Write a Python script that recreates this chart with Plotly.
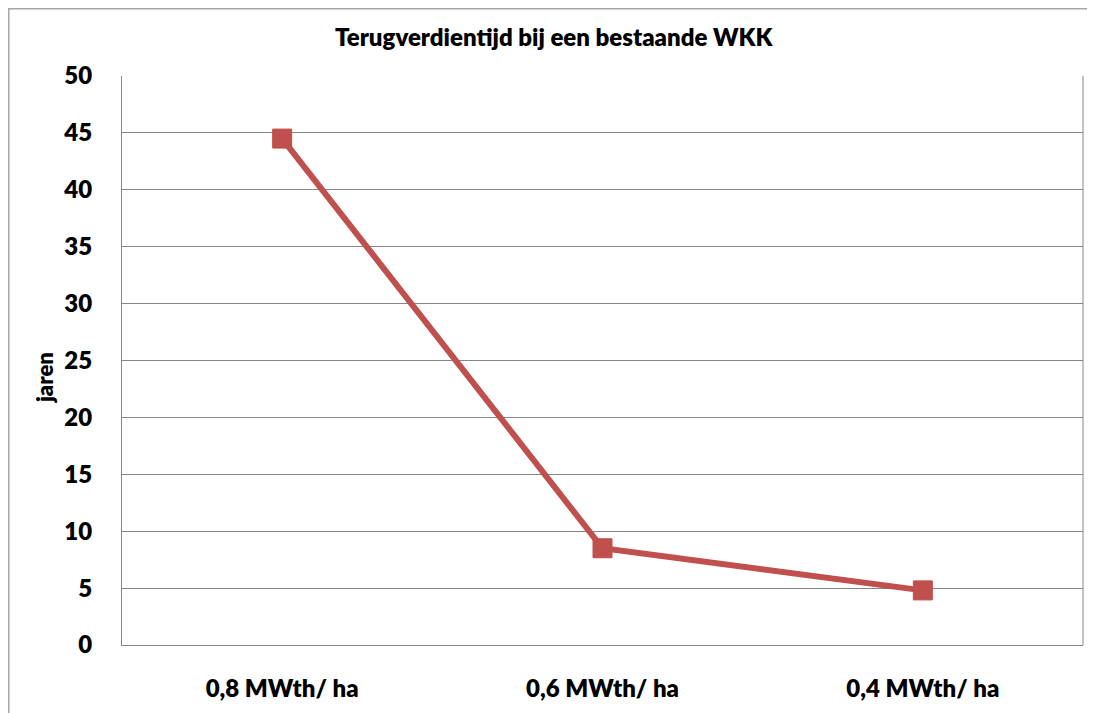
import plotly.graph_objects as go

categories = ["0,8 MWth/ ha", "0,6 MWth/ ha", "0,4 MWth/ ha"]
jaren = [44.5, 8.5, 4.8]
y_ticks = [0, 5, 10, 15, 20, 25, 30, 35, 40, 45, 50]

title_text = "Terugverdientijd bij een bestaande WKK"
y_title = "jaren"

FONT = "Lato"
WEIGHT = 800
RED = "#C0504D"

# page body has an 8px margin, so figure coords = reference - 8
W, H = 1095, 713
L, R, T, B = 114, 20, 68, 76
pw = W - L - R
ph = H - T - B

fig = go.Figure()
fig.add_trace(go.Scatter(
    x=categories, y=jaren, mode="lines+markers",
    line=dict(color=RED, width=6),
    marker=dict(symbol="square", size=19, color=RED,
                line=dict(color=RED, width=1)),
    showlegend=False, hoverinfo="x+y",
))

tickfont = dict(family=FONT, size=24, color="black", weight=WEIGHT)

fig.update_layout(
    width=W, height=H,
    margin=dict(l=L, r=R, t=T, b=B, pad=0),
    paper_bgcolor="white", plot_bgcolor="white",
    font=dict(family=FONT, color="black", size=24, weight=WEIGHT),
    xaxis=dict(
        type="category", range=[-0.5, 2.5],
        showgrid=False, zeroline=False,
        showline=True, linecolor="#868686", linewidth=1,
        ticks="", tickfont=tickfont,
        ticklabelstandoff=22,
    ),
    yaxis=dict(
        range=[0, 50], tickvals=y_ticks,
        showgrid=True, gridcolor="#868686", gridwidth=1,
        zeroline=False,
        showline=True, linecolor="#868686", linewidth=1,
        ticks="", tickfont=tickfont,
        ticklabelstandoff=24,
    ),
    shapes=[
        dict(type="rect", xref="paper", yref="paper",
             x0=(0.75 - L) / pw, x1=(W + 10 - L) / pw,
             y0=-(B + 10) / ph, y1=1 + (T - 0.75) / ph,
             line=dict(color="#A6A6A6", width=1.5), fillcolor="rgba(0,0,0,0)",
             layer="below"),
        dict(type="line", xref="paper", yref="paper",
             x0=1, x1=1, y0=0, y1=1,
             line=dict(color="#868686", width=1)),
    ],
    annotations=[
        dict(text=title_text, xref="paper", yref="paper",
             x=(554 - 8 - L) / pw, y=1 + (T - 29) / ph,
             xanchor="center", yanchor="middle", showarrow=False,
             font=dict(family=FONT, size=24, color="black", weight=WEIGHT)),
        dict(text=y_title, xref="paper", yref="paper",
             x=(45 - 8 - L) / pw, y=(H - B - 370) / ph,
             xanchor="center", yanchor="middle", showarrow=False, textangle=-90,
             font=dict(family=FONT, size=22, color="black", weight=WEIGHT)),
    ],
)

fig.write_html("out.html")
